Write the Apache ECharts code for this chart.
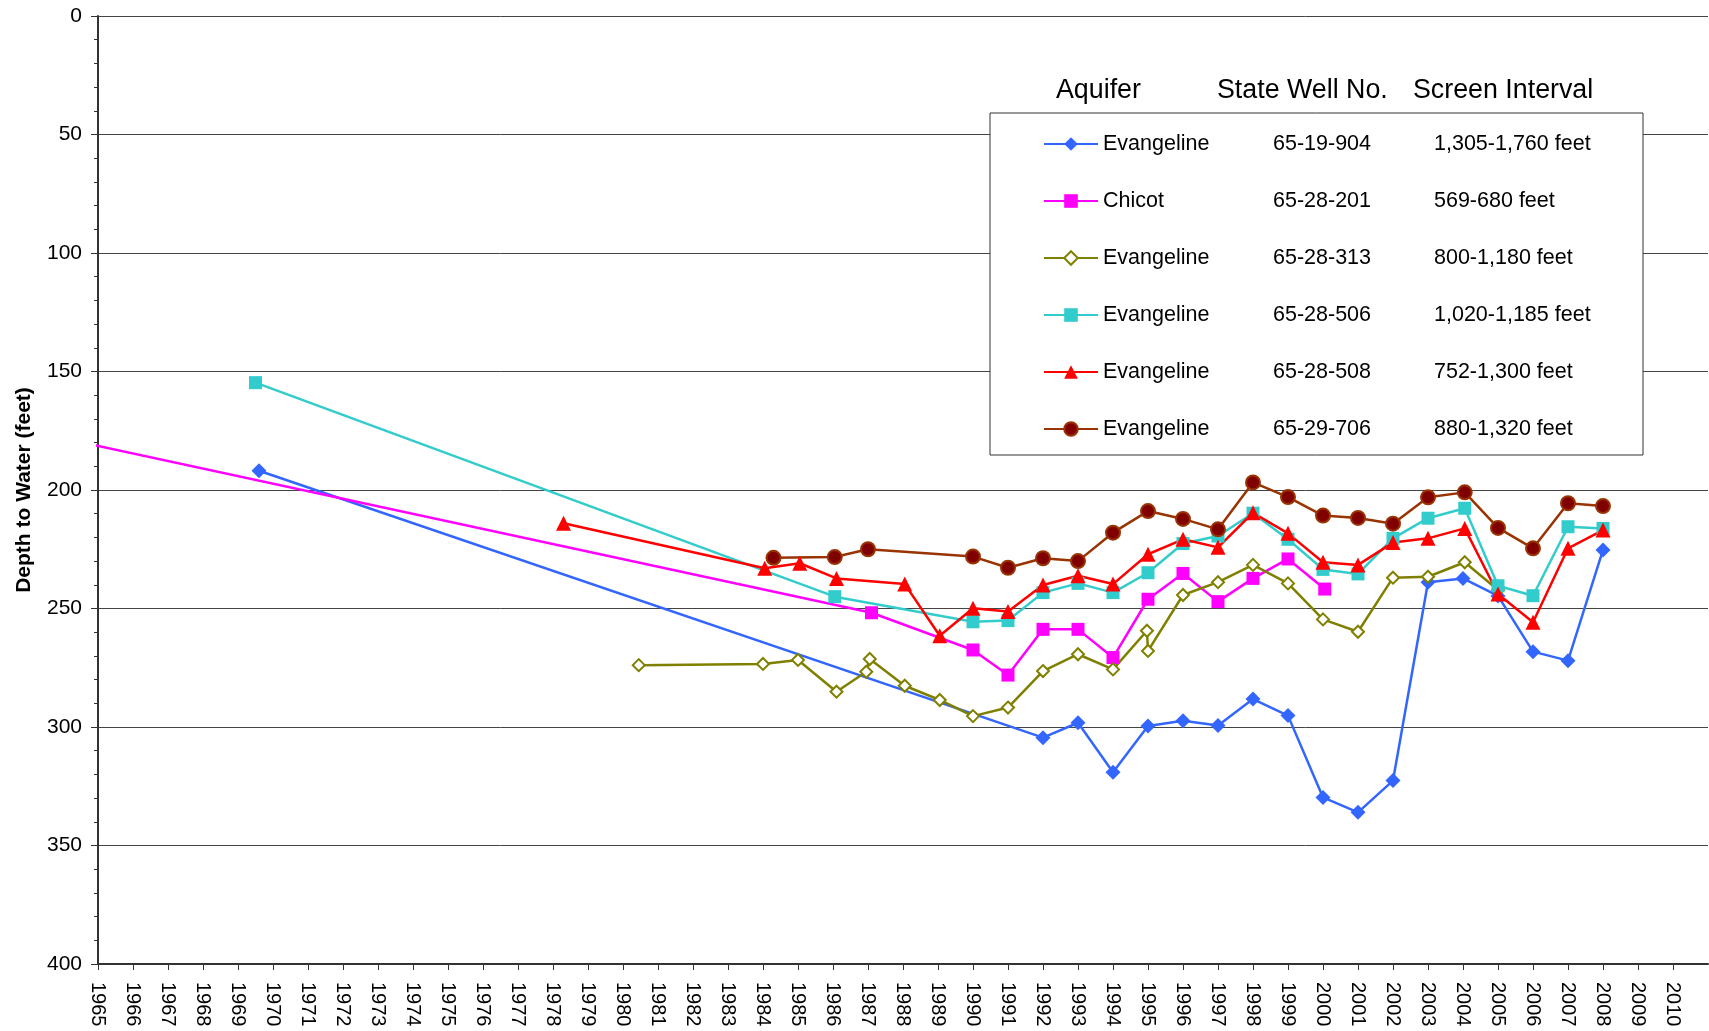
<!DOCTYPE html>
<html lang="en">
<head>
  <meta charset="UTF-8">
  <title>Depth to Water</title>
  <style>
    html, body { margin: 0; padding: 0; background: #fff; }
    #main { width: 1709px; height: 1031px; }
  </style>
  <script src="https://cdn.jsdelivr.net/npm/echarts@6/dist/echarts.min.js"></script>
</head>
<body>
  <div id="main"></div>
  <script>
    // well records: [year, depth to water in feet]
    var well904 = [[1969.6, 191.9], [1992.0, 304.5], [1993.0, 298.2], [1994.0, 319.1], [1995.0, 299.6], [1996.0, 297.4],
      [1997.0, 299.4], [1998.0, 288.2], [1999.0, 295.2], [2000.0, 329.7], [2001.0, 336.0], [2002.0, 322.6], [2003.0, 238.9],
      [2004.0, 237.3], [2005.0, 244.7], [2006.0, 268.2], [2007.0, 272.0], [2008.0, 225.3]];
    var well201 = [[1960.0, 165.5], [1987.1, 251.8], [1990.0, 267.5], [1991.0, 278.1], [1992.0, 258.8], [1993.0, 258.8],
      [1994.0, 270.7], [1995.0, 246.1], [1996.0, 235.2], [1997.0, 247.1], [1998.0, 237.3], [1999.0, 229.1], [2000.05, 241.8]];
    var well313 = [[1980.45, 273.9], [1984.0, 273.4], [1985.0, 271.7], [1986.1, 285.1], [1986.95, 276.7], [1987.05, 271.3],
      [1988.05, 282.6], [1989.05, 288.6], [1990.0, 295.4], [1991.0, 291.8], [1992.0, 276.4], [1993.0, 269.3], [1994.0, 275.7],
      [1994.97, 259.4], [1995.0, 267.9], [1996.0, 244.3], [1997.0, 238.9], [1998.0, 231.6], [1999.0, 239.4], [2000.0, 254.6],
      [2001.0, 259.8], [2002.0, 237.0], [2003.0, 236.6], [2004.05, 230.5], [2005.0, 242.2]];
    var well506 = [[1969.5, 154.7], [1986.05, 245.0], [1990.0, 255.6], [1991.0, 255.1], [1992.0, 243.3], [1993.0, 239.4],
      [1994.0, 243.3], [1995.0, 234.9], [1996.0, 222.6], [1997.0, 219.4], [1998.0, 209.8], [1999.0, 220.8], [2000.0, 233.5],
      [2001.0, 235.4], [2002.0, 220.4], [2003.0, 211.9], [2004.05, 207.7], [2005.0, 240.4], [2006.0, 244.6], [2007.0, 215.5],
      [2008.0, 216.2]];
    var well508 = [[1978.3, 214.0], [1984.05, 233.0], [1985.05, 230.9], [1986.1, 237.3], [1988.05, 239.7], [1989.05, 261.5],
      [1990.0, 249.9], [1991.0, 251.3], [1992.0, 240.1], [1993.0, 236.2], [1994.0, 239.7], [1995.0, 227.1], [1996.0, 220.8],
      [1997.0, 224.2], [1998.0, 209.6], [1999.0, 218.3], [2000.0, 230.5], [2001.0, 231.6], [2002.0, 222.2], [2003.0, 220.4],
      [2004.05, 216.2], [2005.0, 243.9], [2006.0, 255.8], [2007.0, 224.6], [2008.0, 216.9]];
    var well706 = [[1984.3, 228.6], [1986.05, 228.3], [1987.0, 225.0], [1990.0, 228.1], [1991.0, 232.8], [1992.0, 228.8],
      [1993.0, 230.0], [1994.0, 218.0], [1995.0, 208.9], [1996.0, 212.2], [1997.0, 216.6], [1998.0, 196.8], [1999.0, 203.0],
      [2000.0, 210.8], [2001.0, 211.8], [2002.0, 214.2], [2003.0, 203.1], [2004.05, 201.0], [2005.0, 216.0], [2006.0, 224.6],
      [2007.0, 205.6], [2008.0, 206.8]];

    var wellNames = ['65-19-904', '65-28-201', '65-28-313', '65-28-506', '65-28-508', '65-29-706'];
    var aquifers = ['Evangeline', 'Chicot', 'Evangeline', 'Evangeline', 'Evangeline', 'Evangeline'];
    var intervals = ['1,305-1,760 feet', '569-680 feet', '800-1,180 feet', '1,020-1,185 feet', '752-1,300 feet', '880-1,320 feet'];
    var wellData = [well904, well201, well313, well506, well508, well706];

    var colors = ['#3366FF', '#FF00FF', '#808000', '#33CCCC', '#FF0000', '#993300'];
    var symbols = ['diamond', 'rect', 'emptyDiamond', 'rect', 'triangle', 'circle'];
    var sizes = [15, 13, 12, 13, 15, 14];

    var font = 'Liberation Sans, Arial, sans-serif';

    var series = wellData.map(function (d, i) {
      var s = {
        name: wellNames[i],
        type: 'line',
        data: d,
        clip: true,
        symbol: symbols[i],
        symbolSize: sizes[i],
        showAllSymbol: true,
        lineStyle: { color: colors[i], width: 2.5 },
        itemStyle: { color: colors[i] },
        emphasis: { disabled: true }
      };
      if (i === 2) s.itemStyle = { color: colors[i], borderColor: colors[i], borderWidth: 2.5 };
      if (i === 5) s.itemStyle = { color: '#800000', borderColor: '#993300', borderWidth: 2 };
      return s;
    });

    var myChart = echarts.init(document.getElementById('main'));
    var option = {
      animation: false,
      backgroundColor: '#fff',
      textStyle: { fontFamily: font },
      grid: { left: 98, top: 16, right: 1, bottom: 67, outerBoundsMode: 'none', containLabel: false },
      xAxis: {
        type: 'value',
        min: 1965,
        max: 2011,
        interval: 1,
        axisLine: { onZero: false, lineStyle: { color: '#333', width: 2 } },
        axisTick: { length: 6, lineStyle: { color: '#333' } },
        axisLabel: {
          rotate: -90, margin: 18, fontSize: 20, color: '#000', fontFamily: font, showMaxLabel: false,
          formatter: function (v) { return String(v); }
        },
        splitLine: { show: false }
      },
      yAxis: {
        type: 'value',
        inverse: true,
        min: 0,
        max: 400,
        interval: 50,
        name: 'Depth to Water (feet)',
        nameLocation: 'middle',
        nameGap: 63,
        nameTextStyle: { fontSize: 21, fontWeight: 'bold', color: '#000', fontFamily: font },
        axisLine: { onZero: false, lineStyle: { color: '#333', width: 2 } },
        axisTick: { length: 7, lineStyle: { color: '#333' } },
        minorTick: { show: true, splitNumber: 5, length: 4, lineStyle: { color: '#333' } },
        axisLabel: { margin: 16, fontSize: 21, color: '#000', fontFamily: font },
        splitLine: { show: true, lineStyle: { color: '#444', width: 1 } }
      },
      legend: {
        orient: 'vertical',
        left: 990,
        top: 113,
        padding: [19, 39, 14, 53],
        itemWidth: 54,
        itemHeight: 17,
        itemGap: 33,
        backgroundColor: '#fff',
        borderColor: '#333',
        borderWidth: 1,
        data: wellNames,
        formatter: function (name) {
          var i = wellNames.indexOf(name);
          return '{a|' + aquifers[i] + '}{b|' + wellNames[i] + '}{c|' + intervals[i] + '}';
        },
        textStyle: {
          fontSize: 21.5,
          fontFamily: font,
          color: '#000',
          lineHeight: 24,
          rich: {
            a: { width: 170, fontSize: 21.5, lineHeight: 24 },
            b: { width: 161, fontSize: 21.5, lineHeight: 24 },
            c: { width: 170, fontSize: 21.5, lineHeight: 24 }
          }
        }
      },
      graphic: [
        { type: 'text', left: 1056, top: 77, style: { text: 'Aquifer', font: '26.8px ' + font, fill: '#000' } },
        { type: 'text', left: 1217, top: 77, style: { text: 'State Well No.', font: '26.8px ' + font, fill: '#000' } },
        { type: 'text', left: 1413, top: 77, style: { text: 'Screen Interval', font: '26.8px ' + font, fill: '#000' } }
      ],
      series: series
    };
    myChart.setOption(option);
  </script>
</body>
</html>
